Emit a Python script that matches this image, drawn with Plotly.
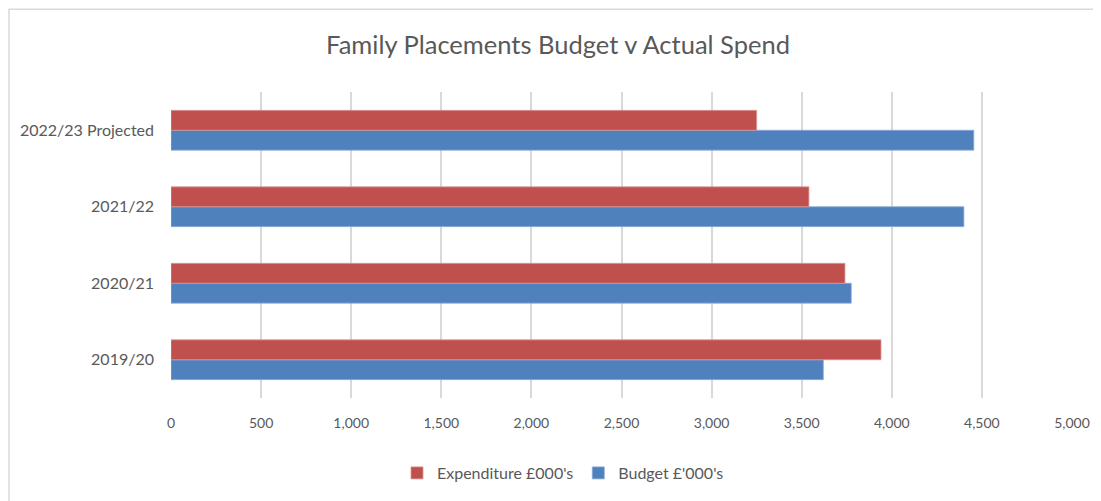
import plotly.graph_objects as go

# Data
years = ["2019/20", "2020/21", "2021/22", "2022/23 Projected"]
budget = [3620, 3775, 4400, 4455]
expenditure = [3940, 3740, 3540, 3250]
x_ticks = [0, 500, 1000, 1500, 2000, 2500, 3000, 3500, 4000, 4500, 5000]

RED = "#C0504D"
BLUE = "#4F81BD"
FONT = "Lato, 'Open Sans', sans-serif"

# page has an 8px body margin, so the figure is a bit smaller than the window
W, H = 1093, 493
L, R, T, B = 163, 29, 84, 102
PW, PH = W - L - R, H - T - B

fig = go.Figure()

# Budget first so it sits below expenditure inside each group
fig.add_trace(go.Bar(
    y=years, x=budget, orientation="h", name="Budget £'000's",
    marker=dict(color=BLUE, line=dict(color="#8EAADB", width=0.8)),
    legendrank=2,
))
fig.add_trace(go.Bar(
    y=years, x=expenditure, orientation="h", name="Expenditure £000's",
    marker=dict(color=RED, line=dict(color="#D99694", width=0.8)),
    legendrank=1,
))

fig.update_layout(
    width=W, height=H,
    barmode="group", bargap=0.48, bargroupgap=0,
    paper_bgcolor="white", plot_bgcolor="white",
    font=dict(family=FONT, color="#595959", size=14),
    title=dict(text="Family Placements Budget v Actual Spend",
               x=550 / W, xanchor="center", y=1 - 37 / H, yanchor="middle",
               font=dict(size=25.5, color="#595959", family=FONT)),
    margin=dict(l=L, r=R, t=T, b=B),
    legend=dict(orientation="h", x=(555 - L) / PW, xanchor="center",
                y=-(465 - (T + PH)) / PH, yanchor="middle",
                font=dict(size=16, color="#595959"), itemwidth=30),
    showlegend=True,
)

fig.update_xaxes(
    range=[0, 5000], tickvals=x_ticks, tickformat=",d",
    showgrid=True, gridcolor="#D9D9D9", gridwidth=1.5,
    zeroline=False, showline=False, ticks="",
    ticklabelstandoff=15, tickfont=dict(size=14, color="#595959"),
)
fig.update_yaxes(
    showgrid=False, zeroline=False, showline=False, ticks="",
    ticklabelstandoff=16, tickfont=dict(size=16, color="#595959"),
)

# light chart frame (only top and left edges are visible in the window)
fig.add_shape(type="rect", xref="paper", yref="paper",
              x0=-(L - 1) / PW, x1=1 + (R + 20) / PW,
              y0=-(B + 20) / PH, y1=1 + (T - 1) / PH,
              line=dict(color="#D9D9D9", width=1.5))

fig.write_html("out.html")
